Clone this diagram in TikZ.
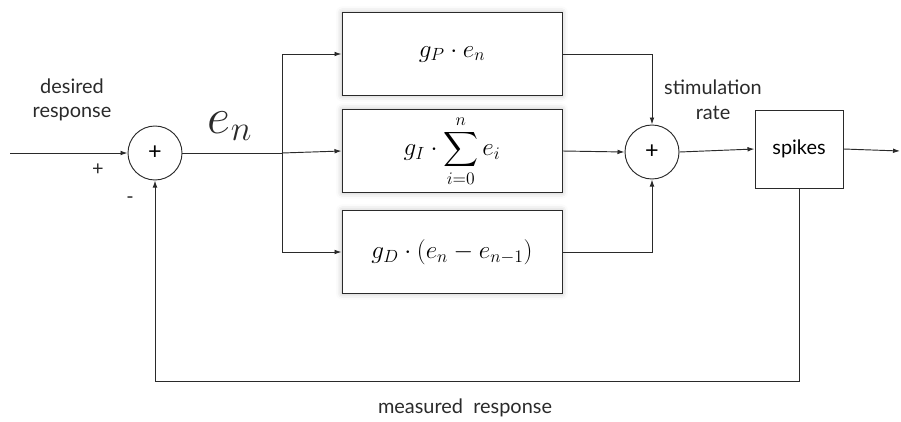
\RequirePackage{fix-cm}
\documentclass[tikz,border=0pt]{standalone}
\usepackage{exscale}
\usepackage[no-math]{fontspec}
\setmainfont{Lato}
\usetikzlibrary{arrows.meta,positioning,shadows.blur}
\definecolor{ink}{HTML}{2A2A2A}

\begin{document}
\begin{tikzpicture}[x=0.03cm,y=-0.03cm,font=\fontsize{17}{21}\selectfont,
  blk/.style={draw=ink,line width=0.8pt,fill=white,minimum width=6.6cm,minimum height=2.5cm,
    font=\fontsize{21.5}{25}\selectfont,
    blur shadow={shadow xshift=0pt,shadow yshift=0pt,shadow blur radius=5pt,shadow opacity=25}},
  spk/.style={draw=ink,line width=0.8pt,minimum width=2.64cm,minimum height=2.34cm},
  sum/.style={draw=ink,line width=0.8pt,circle,minimum size=1.62cm,inner sep=0pt,
    font=\fontsize{20}{20}\selectfont},
  lbl/.style={align=center,text=ink},
  arr/.style={-{Latex[length=6pt,width=4pt]},line width=0.8pt,ink},
  ln/.style={line width=0.8pt,ink}]
\useasboundingbox (0,0) rectangle (901,421);
\node[sum] (s1) at (155,153) {+};
\node[blk] (bp) at (452,54) {$g_P\cdot e_n$};
\node[blk] (bi) at (452,151) {$\displaystyle g_I\cdot\sum_{i=0}^{n} e_i$};
\node[blk] (bd) at (452,252) {$g_D\cdot(e_n-e_{n-1})$};
\node[sum] (s2) at (652,152) {+};
\node[spk] (spk) at (799,149) {spikes};
\coordinate (in) at (10,153);
\coordinate (out) at (900,151);
\coordinate (br) at (282,153);
\coordinate (fb) at (155,381);
% labels
\node[lbl] (des) at (72,100) {desired\\response};
\node[lbl] (plus) at (98,170) {+};
\node[lbl] (minus) at (130,200) {-};
\node[lbl,font=\fontsize{43}{43}\selectfont] (en) at (230,126) {$e_n$};
\node[lbl] (stim) at (713,100) {stimulation\\rate};
\node[lbl] (meas) at (465,408) {measured\ \ response};
% connections
\draw[arr] (in) -- (s1.west);
\draw[ln] (s1.east) -- (br);
\draw[arr] (br) -- (bi.west);
\draw[arr] (br) |- (bp.west);
\draw[arr] (br) |- (bd.west);
\draw[arr] (bp.east) -| (s2.north);
\draw[arr] (bi.east) -- (s2.west);
\draw[arr] (bd.east) -| (s2.south);
\draw[arr] (s2.east) -- (spk.west);
\draw[arr] (spk.east) -- (out);
\draw[arr] (spk.south) |- (fb) -- (s1.south);
\end{tikzpicture}
\end{document}
